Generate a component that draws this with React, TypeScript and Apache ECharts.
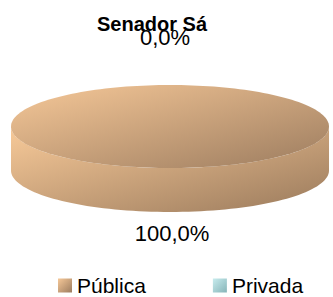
import React, { useEffect, useRef } from "react";
import * as echarts from "echarts";

const title = "Senador Sá";
const categories = ["Pública", "Privada"];
const values = [100, 0];
const topColors = [
  ["#F6C898", "#9C7C5F"],
  ["#C8ECEE", "#86B4B8"],
];
const sideColors = [
  ["#F8CA99", "#9A7A5C"],
  ["#C8ECEE", "#7EAAAE"],
];

const FONT = "'Liberation Sans', Arial, sans-serif";

function fmt(v: number) {
  return v.toFixed(1).replace(".", ",") + "%";
}

export default function App() {
  const ref = useRef<HTMLDivElement>(null);
  useEffect(() => {
    if (!ref.current) return;
    const chart = echarts.init(ref.current, null, { renderer: "svg" });
    const total = values.reduce((a, b) => a + b, 0);
    const cx = 170, cy = 126.5, rx = 159, ry = 41.5, depth = 44;
    const pt = (deg: number, dy = 0) => {
      const r = (deg * Math.PI) / 180;
      return [cx + rx * Math.sin(r), cy - ry * Math.cos(r) + dy];
    };
    const grad = (c: string[]) =>
      new echarts.graphic.LinearGradient(0, 0, 1, 1, [
        { offset: 0, color: c[0] },
        { offset: 1, color: c[1] },
      ]);

    const makeSeries = (idx: number) => ({
      type: "custom",
      name: categories[idx],
      coordinateSystem: "none",
      data: [values[idx]],
      itemStyle: { color: grad(topColors[idx]) },
      renderItem: (_params: any, _api: any) => {
        let start = 0;
        for (let i = 0; i < idx; i++) start += (values[i] / total) * 360;
        const sweep = (values[idx] / total) * 360;
        const end = start + sweep;
        const children: any[] = [];
        if (sweep > 0) {
          const s0 = Math.max(start, 90), s1 = Math.min(end, 270);
          if (s1 > s0) {
            const topPts: number[][] = [];
            const botPts: number[][] = [];
            const n = 80;
            for (let k = 0; k <= n; k++) {
              const a = s0 + ((s1 - s0) * k) / n;
              topPts.push(pt(a));
              botPts.push(pt(a, depth));
            }
            children.push({
              type: "polygon",
              shape: { points: topPts.concat(botPts.reverse()) },
              style: { fill: grad(sideColors[idx]) },
            });
          }
          const pts: number[][] = [];
          const n = 180;
          for (let k = 0; k <= n; k++) pts.push(pt(start + (sweep * k) / n));
          if (sweep < 360) pts.push([cx, cy]);
          children.push({
            type: "polygon",
            shape: { points: pts },
            style: { fill: grad(topColors[idx]) },
          });
        }
        const mid = start + sweep / 2;
        const r = (mid * Math.PI) / 180;
        const c = Math.cos(r);
        const off = c > 0 ? 48 : 21;
        const lx = cx + (rx + off) * Math.sin(r) + (c > 0 ? -5 : 2);
        const ly = cy - (ry + off) * c + (c < 0 ? depth : 0);
        children.push({
          type: "text",
          x: lx,
          y: ly,
          z2: 10,
          style: {
            text: fmt((values[idx] / total) * 100),
            fontSize: 22,
            fontFamily: FONT,
            fill: "#000",
            align: "center",
            verticalAlign: "middle",
          },
        });
        return { type: "group", children };
      },
    });

    chart.setOption({
      animation: false,
      title: {
        text: title,
        left: 92,
        top: 9,
        textStyle: { fontSize: 20, fontWeight: "bold", fontFamily: FONT, color: "#000" },
      },
      legend: {
        data: categories,
        left: 53,
        top: 270,
        padding: [5, 5, 2, 5],
        icon: "rect",
        itemWidth: 14,
        itemHeight: 14,
        itemGap: 67,
        textStyle: { fontSize: 21, lineHeight: 20, fontFamily: FONT, color: "#000" },
      },
      series: [makeSeries(1), makeSeries(0)],
    });
    return () => chart.dispose();
  }, []);
  return (
    <div
      ref={ref}
      style={{ position: "absolute", left: 0, top: 0, width: 333, height: 297, background: "#fff" }}
    />
  );
}
